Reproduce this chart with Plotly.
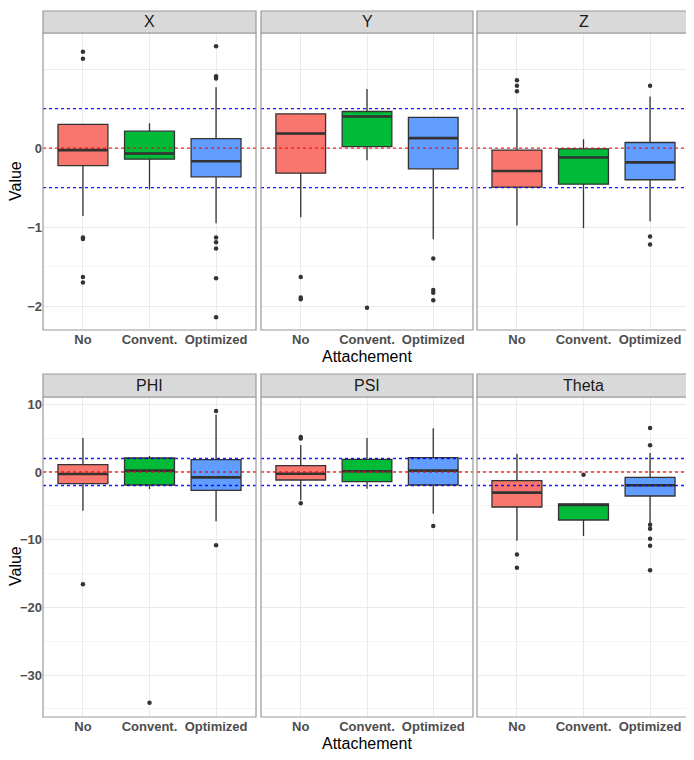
import plotly.graph_objects as go

W, H = 694, 760
OFF = 8  # default page body margin in the browser
FW, FH = W - OFF, H - OFF

categories = ["No", "Convent.", "Optimized"]
positions = [1, 2, 3]
fill_colors = ["#F8766D", "#00BA38", "#619CFF"]
panel_names = ["X", "Y", "Z", "PHI", "PSI", "Theta"]

# ---- box statistics per panel (No, Convent., Optimized) ----
X_q1 = [-0.22, -0.14, -0.363]
X_med = [-0.025, -0.068, -0.165]
X_q3 = [0.30, 0.215, 0.12]
X_lo = [-0.857, -0.52, -0.95]
X_hi = [0.30, 0.316, 0.77]
X_out = [[1.22, 1.13, -1.13, -1.15, -1.63, -1.70], [],
         [1.29, 0.91, 0.88, -1.13, -1.19, -1.27, -1.645, -2.14]]

Y_q1 = [-0.317, 0.02, -0.262]
Y_med = [0.185, 0.40, 0.127]
Y_q3 = [0.434, 0.463, 0.388]
Y_lo = [-0.873, -0.152, -1.152]
Y_hi = [0.434, 0.747, 0.388]
Y_out = [[-1.63, -1.89, -1.91], [-2.02], [-1.397, -1.794, -1.83, -1.924]]

Z_q1 = [-0.494, -0.456, -0.40]
Z_med = [-0.29, -0.118, -0.18]
Z_q3 = [-0.025, -0.01, 0.071]
Z_lo = [-0.98, -1.01, -0.924]
Z_hi = [0.506, 0.113, 0.653]
Z_out = [[0.86, 0.79, 0.72], [], [0.79, -1.118, -1.22]]

PHI_q1 = [-1.72, -1.92, -2.71]
PHI_med = [-0.3, 0.2, -0.79]
PHI_q3 = [1.08, 2.07, 1.82]
PHI_lo = [-5.71, -2.5, -7.29]
PHI_hi = [5.02, 2.36, 8.47]
PHI_out = [[-16.6], [-34.1], [9.01, -10.84]]

PSI_q1 = [-1.18, -1.43, -1.92]
PSI_med = [-0.25, 0.1, 0.2]
PSI_q3 = [0.94, 1.87, 2.12]
PSI_lo = [-4.19, -2.46, -6.16]
PSI_hi = [3.99, 5.02, 6.45]
PSI_out = [[5.17, 4.93, -4.63], [], [-7.98]]

Theta_q1 = [-5.17, -7.09, -3.55]
Theta_med = [-3.05, -4.88, -1.97]
Theta_q3 = [-1.28, -4.73, -0.79]
Theta_lo = [-10.15, -9.46, -7.6]
Theta_hi = [2.71, -4.73, 2.81]
Theta_out = [[-12.2, -14.14], [-0.39],
             [6.5, 3.94, -7.78, -8.37, -9.85, -10.89, -14.53]]

stats = {
    "X": (X_q1, X_med, X_q3, X_lo, X_hi, X_out),
    "Y": (Y_q1, Y_med, Y_q3, Y_lo, Y_hi, Y_out),
    "Z": (Z_q1, Z_med, Z_q3, Z_lo, Z_hi, Z_out),
    "PHI": (PHI_q1, PHI_med, PHI_q3, PHI_lo, PHI_hi, PHI_out),
    "PSI": (PSI_q1, PSI_med, PSI_q3, PSI_lo, PSI_hi, PSI_out),
    "Theta": (Theta_q1, Theta_med, Theta_q3, Theta_lo, Theta_hi, Theta_out),
}

# reference lines: red at 0, blue at +/- tolerance
tol_top = 0.5
tol_bottom = 2.0

# y axis ticks
top_ticks = [-2, -1, 0, 1]
top_ticktext = ["\u22122", "\u22121", "0", ""]
top_minor = [-1.5, -0.5, 0.5]
top_range = [-2.30, 1.456]
bot_ticks = [-30, -20, -10, 0, 10]
bot_ticktext = ["\u221230", "\u221220", "\u221210", "0", "10"]
bot_minor = [-35, -25, -15, -5, 5]
bot_range = [-36.2, 11.08]

BOX_W = 0.75
LINE = "#333333"
FONT = "Liberation Sans"

# ---- layout geometry (window pixels) ----
col_px = [(43, 256), (261, 473), (477, 690)]
row_px = [(33, 330), (397, 717)]
strip_px = [(11, 33), (374, 397)]
value_title_y = [181, 566]


def px_x(v):
    return (v - OFF) / FW


def px_y(v):
    return 1 - (v - OFF) / FH


fig = go.Figure()
shapes = []
annotations = []
layout = {}

for i, name in enumerate(panel_names):
    r, c = divmod(i, 3)
    k = i + 1
    xa = "x" if k == 1 else f"x{k}"
    ya = "y" if k == 1 else f"y{k}"
    q1, med, q3, lo, hi, out = stats[name]
    for j, cat in enumerate(categories):
        fig.add_trace(go.Box(
            x=[positions[j]], q1=[q1[j]], median=[med[j]], q3=[q3[j]],
            lowerfence=[lo[j]], upperfence=[hi[j]],
            width=BOX_W, whiskerwidth=0, boxpoints=False,
            fillcolor=fill_colors[j], line=dict(color=LINE, width=1.3),
            xaxis=xa, yaxis=ya, showlegend=False, hoverinfo="skip",
        ))
        # thicker median line (ggplot style)
        fig.add_trace(go.Scatter(
            x=[positions[j] - BOX_W / 2, positions[j] + BOX_W / 2],
            y=[med[j], med[j]], mode="lines",
            line=dict(color=LINE, width=2.6),
            xaxis=xa, yaxis=ya, showlegend=False, hoverinfo="skip",
        ))
        if out[j]:
            fig.add_trace(go.Scatter(
                x=[positions[j]] * len(out[j]), y=out[j], mode="markers",
                marker=dict(color=LINE, size=4.5),
                xaxis=xa, yaxis=ya, showlegend=False, hoverinfo="skip",
            ))

    x0, x1 = col_px[c]
    y0, y1 = row_px[r]
    top = r == 0
    layout["xaxis" if k == 1 else f"xaxis{k}"] = dict(
        domain=[px_x(x0), px_x(x1)], anchor=ya, range=[0.4, 3.6],
        tickvals=positions, ticktext=categories,
        tickfont=dict(family=FONT, size=13, color="#4D4D4D", weight="bold"),
        showgrid=True, gridcolor="#EBEBEB", gridwidth=1,
        zeroline=False, showline=False, ticks="", fixedrange=True,
    )
    ydict = dict(
        domain=[px_y(y1), px_y(y0)], anchor=xa,
        range=top_range if top else bot_range,
        tickvals=top_ticks if top else bot_ticks,
        ticktext=top_ticktext if top else bot_ticktext,
        tickfont=dict(family=FONT, size=13, color="#4D4D4D", weight="bold"),
        showgrid=True, gridcolor="#EBEBEB", gridwidth=1,
        minor=dict(tickvals=top_minor if top else bot_minor, showgrid=True,
                   gridcolor="#F4F4F4", gridwidth=0.6, ticks=""),
        zeroline=False, showline=False, ticks="",
        showticklabels=(c == 0), fixedrange=True,
    )
    layout["yaxis" if k == 1 else f"yaxis{k}"] = ydict

    tol = tol_top if top else tol_bottom
    for yv, col in [(0, "rgba(255,0,0,0.85)"), (tol, "rgba(0,0,255,0.9)"),
                    (-tol, "rgba(0,0,255,0.9)")]:
        shapes.append(dict(type="line", xref=f"{xa} domain", yref=ya,
                           x0=0, x1=1, y0=yv, y1=yv,
                           line=dict(color=col, width=1.4, dash="3px,3px"),
                           layer="above"))
    # panel border
    shapes.append(dict(type="rect", xref=f"{xa} domain", yref=f"{ya} domain",
                       x0=0, x1=1, y0=0, y1=1,
                       line=dict(color="#9A9A9A", width=1.2), layer="above"))
    # strip
    s0, s1 = strip_px[r]
    shapes.append(dict(type="rect", xref="paper", yref="paper",
                       x0=px_x(x0), x1=px_x(x1), y0=px_y(s1), y1=px_y(s0),
                       fillcolor="#D9D9D9", line=dict(color="#9A9A9A", width=1.2),
                       layer="above"))
    annotations.append(dict(text=name, xref="paper", yref="paper",
                            x=px_x((x0 + x1) / 2), y=px_y((s0 + s1) / 2),
                            showarrow=False, xanchor="center", yanchor="middle",
                            font=dict(family=FONT, size=16, color="#1A1A1A")))

# axis titles
for r in range(2):
    y0, y1 = row_px[r]
    annotations.append(dict(text="Attachement", xref="paper", yref="paper",
                            x=px_x((43 + 690) / 2), y=px_y(y1 + 26),
                            showarrow=False, xanchor="center", yanchor="middle",
                            font=dict(family=FONT, size=16, color="#000000")))
    annotations.append(dict(text="Value", xref="paper", yref="paper",
                            x=px_x(15), y=px_y(value_title_y[r]), textangle=-90,
                            showarrow=False, xanchor="center", yanchor="middle",
                            borderpad=0,
                            font=dict(family=FONT, size=16, color="#000000")))

fig.update_layout(
    width=FW, height=FH, margin=dict(l=0, r=0, t=0, b=0),
    paper_bgcolor="white", plot_bgcolor="white",
    shapes=shapes, annotations=annotations, showlegend=False,
    **layout,
)

fig.write_html("out.html")
